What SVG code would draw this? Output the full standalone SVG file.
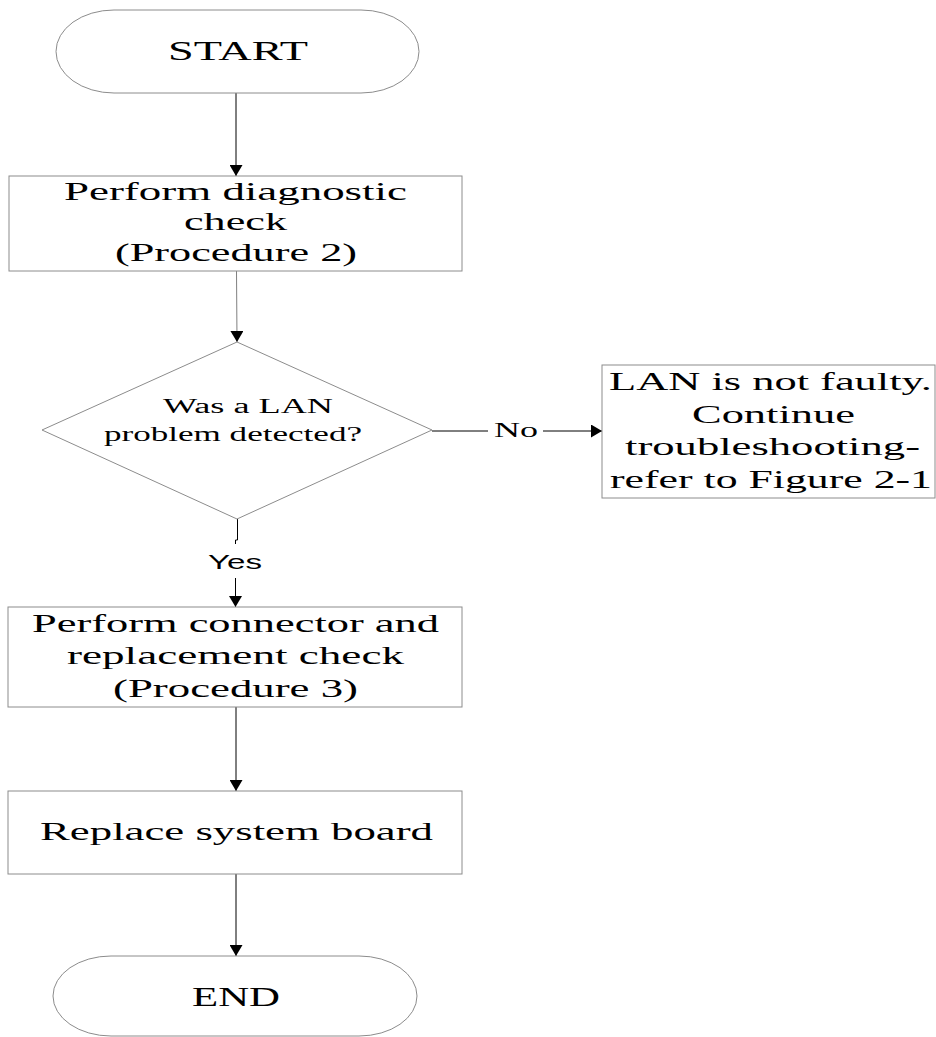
<svg xmlns="http://www.w3.org/2000/svg" width="936" height="1037" viewBox="0 0 936 1037">
  <style>
    .shape { fill: #ffffff; stroke: #8c8c8c; stroke-width: 1; }
    .line { fill: none; stroke: #000000; stroke-width: 1; }
    .faint { stroke: #808080; }
    .serif { font-family: "Liberation Serif", "Times New Roman", serif; fill: #000000; }
    .sans { font-family: "Liberation Sans", Arial, sans-serif; fill: #000000; }
  </style>
  <defs>
    <marker id="arrow" viewBox="0 0 10 10" refX="10" refY="5" markerUnits="userSpaceOnUse"
            markerWidth="11" markerHeight="13" orient="auto" preserveAspectRatio="none">
      <path d="M0,0 L10,5 L0,10 Z" fill="#000000"/>
    </marker>
  </defs>

  <rect width="936" height="1037" fill="#ffffff"/>

  <!-- flow connectors -->
  <g id="connectors">
    <line class="line" x1="236" y1="93" x2="236" y2="176" marker-end="url(#arrow)"/>
    <line class="line faint" x1="236.5" y1="271" x2="237" y2="342" marker-end="url(#arrow)"/>
    <line class="line" x1="432" y1="431" x2="488" y2="431"/>
    <text class="serif" x="494" y="437" font-size="22" textLength="44" lengthAdjust="spacingAndGlyphs">No</text>
    <line class="line" x1="543" y1="431" x2="602" y2="431" marker-end="url(#arrow)"/>
    <polyline class="line" points="237.5,519 237.5,540 235.5,540 235.5,544"/>
    <text class="sans" x="208" y="569" font-size="21" textLength="54" lengthAdjust="spacingAndGlyphs">Yes</text>
    <line class="line" x1="235.5" y1="578" x2="235.5" y2="607" marker-end="url(#arrow)"/>
    <line class="line" x1="236" y1="707" x2="236" y2="791" marker-end="url(#arrow)"/>
    <line class="line" x1="236" y1="874" x2="236" y2="956" marker-end="url(#arrow)"/>
  </g>

  <g id="start">
    <rect class="shape" x="56" y="10" width="363" height="83" rx="58" ry="41.5"/>
    <text class="serif" x="168" y="60" font-size="28" textLength="140" lengthAdjust="spacingAndGlyphs">START</text>
  </g>

  <g id="diagnostic-check">
    <rect class="shape" x="9" y="176" width="453" height="95"/>
    <text class="serif" x="64" y="200" font-size="26" textLength="343" lengthAdjust="spacingAndGlyphs">Perform diagnostic</text>
    <text class="serif" x="184" y="230" font-size="26" textLength="103" lengthAdjust="spacingAndGlyphs">check</text>
    <text class="serif" x="115" y="261" font-size="26" textLength="242" lengthAdjust="spacingAndGlyphs">(Procedure 2)</text>
  </g>

  <g id="lan-decision">
    <polygon class="shape" points="237,342 432,430 237,519 42,430"/>
    <text class="serif" x="163" y="413" font-size="20" textLength="170" lengthAdjust="spacingAndGlyphs">Was a LAN</text>
    <text class="serif" x="104" y="441" font-size="20" textLength="258" lengthAdjust="spacingAndGlyphs">problem detected?</text>
  </g>

  <g id="not-faulty">
    <rect class="shape" x="602" y="365" width="333" height="133"/>
    <text class="serif" x="609" y="390" font-size="26" textLength="323" lengthAdjust="spacingAndGlyphs">LAN is not faulty.</text>
    <text class="serif" x="692" y="423" font-size="26" textLength="163" lengthAdjust="spacingAndGlyphs">Continue</text>
    <text class="serif" x="625" y="455" font-size="26" textLength="295" lengthAdjust="spacingAndGlyphs">troubleshooting-</text>
    <text class="serif" x="610" y="488" font-size="26" textLength="322" lengthAdjust="spacingAndGlyphs">refer to Figure 2-1</text>
  </g>

  <g id="connector-check">
    <rect class="shape" x="8" y="607" width="454" height="100"/>
    <text class="serif" x="32" y="632" font-size="26" textLength="407" lengthAdjust="spacingAndGlyphs">Perform connector and</text>
    <text class="serif" x="67" y="664" font-size="26" textLength="337" lengthAdjust="spacingAndGlyphs">replacement check</text>
    <text class="serif" x="113" y="697" font-size="26" textLength="245" lengthAdjust="spacingAndGlyphs">(Procedure 3)</text>
  </g>

  <g id="replace-board">
    <rect class="shape" x="8" y="791" width="454" height="83"/>
    <text class="serif" x="40" y="840" font-size="26" textLength="393" lengthAdjust="spacingAndGlyphs">Replace system board</text>
  </g>

  <g id="end">
    <rect class="shape" x="53" y="956" width="364" height="80" rx="58" ry="40"/>
    <text class="serif" x="192" y="1006" font-size="27" textLength="88" lengthAdjust="spacingAndGlyphs">END</text>
  </g>
</svg>
